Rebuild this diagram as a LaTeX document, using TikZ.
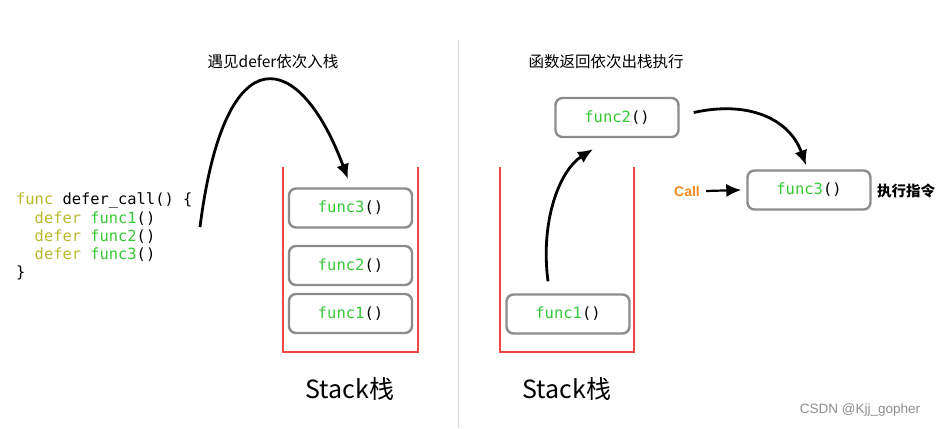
\documentclass[tikz,border=0pt]{standalone}
\usepackage{fontspec}
\setmainfont{Liberation Sans}
\setmonofont{DejaVu Sans Mono}
\newfontfamily\cjk{Noto Sans CJK SC}
\usetikzlibrary{arrows.meta}
\definecolor{kwolive}{RGB}{185,185,45}
\definecolor{fngreen}{RGB}{55,200,55}
\definecolor{stackred}{RGB}{240,70,70}
\definecolor{boxgray}{RGB}{140,140,140}
\definecolor{callorange}{RGB}{245,140,30}
\newcommand{\gofunc}[1]{\textcolor{fngreen}{#1}()}
\newcommand{\kw}[1]{\textcolor{kwolive}{#1}}
\begin{document}
\begin{tikzpicture}[x=1pt,y=-1pt]
	\tikzstyle{fbox}=[rectangle,rounded corners=7pt,draw=boxgray,line width=2.4pt,minimum width=123pt,minimum height=39pt,inner sep=0,font=\ttfamily\fontsize{15.5}{18}\selectfont]
	\tikzstyle{stack}=[draw=stackred,line width=1.8pt]
	\tikzstyle{edge}=[-{Latex[length=15pt,width=13pt]},line width=2.8pt]
	\tikzstyle{caption}=[font=\cjk\fontsize{15.5}{18}\selectfont]
	\tikzstyle{stacklabel}=[font=\cjk\fontsize{25}{28}\selectfont]
	\useasboundingbox (0,0) rectangle (941,428);
	
	% code on the left
	\node [anchor=north west,inner sep=0,align=left,font=\ttfamily\fontsize{15.4}{18.2}\selectfont] (code) at (16,193)
		{\kw{func} defer\_call() \{\\
		\phantom{xx}\kw{defer} \gofunc{func1}\\
		\phantom{xx}\kw{defer} \gofunc{func2}\\
		\phantom{xx}\kw{defer} \gofunc{func3}\\
		\}};
	\coordinate (push) at (200,227);
	\coordinate (stackin) at (348,179);
	
	% left stack
	\draw[stack] (283,167) |- (418,352) -- (418,167);
	\node [fbox] (l3) at (350.5,208) {\gofunc{func3}};
	\node [fbox] (l2) at (350.5,265.5) {\gofunc{func2}};
	\node [fbox] (l1) at (350.5,313.5) {\gofunc{func1}};
	\node [caption] (lcap) at (273,62) {遇见defer依次入栈};
	\node [stacklabel] (lstack) at (350,389) {Stack栈};
	\draw[edge] (push) .. controls (225,30) and (300,50) .. (stackin);
	
	% divider
	\draw[black!15,line width=0.8pt] (458,40) -- (458,428);
	
	% right stack
	\draw[stack] (500,167) |- (634,352) -- (634,167);
	\node [fbox] (r1) at (568,314) {\gofunc{func1}};
	\node [fbox] (r2) at (617,117.5) {\gofunc{func2}};
	\node [fbox] (r3) at (809,190) {\gofunc{func3}};
	\node [caption] (rcap) at (606,62) {函数返回依次出栈执行};
	\node [stacklabel] (rstack) at (567,389) {Stack栈};
	\node [font=\bfseries\fontsize{14}{16}\selectfont,text=callorange,inner sep=0] (call) at (687,191) {Call};
	\node [font=\cjk\bfseries\fontsize{14.5}{16}\selectfont,inner sep=0] (exec) at (906,191) {执行指令};
	\draw[edge] ([xshift=-20pt,yshift=12pt]r1.north) .. controls (540,220) and (560,170) .. ([xshift=-24pt,yshift=-11pt]r2.south);
	\draw[edge] ([xshift=14pt,yshift=5pt]r2.east) .. controls (750,100) and (790,120) .. ([xshift=-3pt,yshift=4pt]r3.north);
	\draw[edge,line width=2.2pt] ([xshift=6pt]call.east) -- ([xshift=-5pt]r3.west);
	
	\node [font=\fontsize{13.5}{15}\selectfont,text=black!45] (mark) at (860,410) {CSDN @Kjj\_gopher};
\end{tikzpicture}
\end{document}
